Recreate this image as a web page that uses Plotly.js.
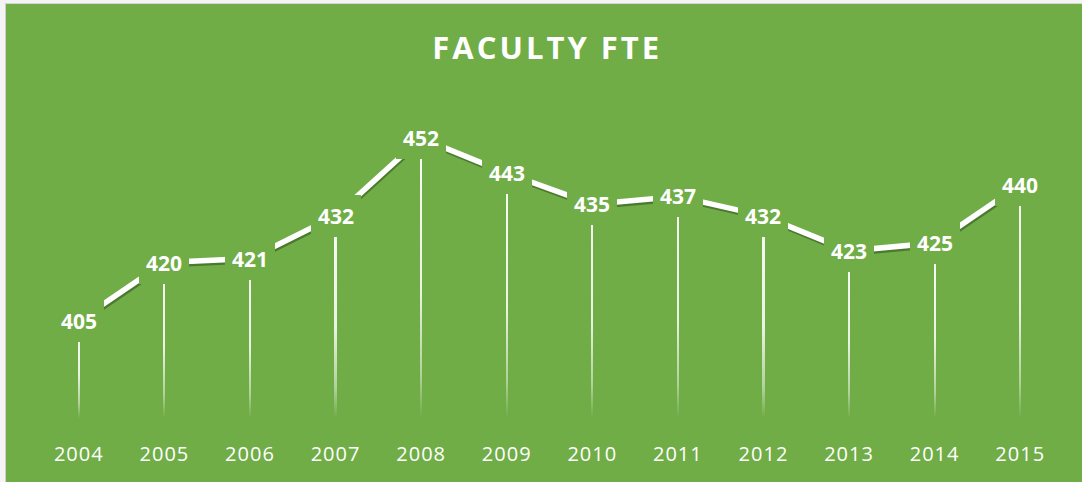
<!DOCTYPE html>
<html><head><meta charset="utf-8">
<script src="https://cdn.plot.ly/plotly-3.0.1.min.js"></script>
<style>
html,body{margin:0;padding:0;background:#f4f4f4;width:1082px;height:482px;overflow:hidden}
#wrap{position:absolute;left:5px;top:3px;width:1077px;height:479px;border-left:1px solid #cfcfcf;border-top:1px solid #d6d6d6;}
#chart{width:1076px;height:478px}
.gtitle{letter-spacing:3px}
.xtick text{letter-spacing:1px}
</style></head>
<body><div id="wrap"><div id="chart"></div></div>
<script>
const years = ['2004','2005','2006','2007','2008','2009','2010','2011','2012','2013','2014','2015'];
const fte = [405,420,421,432,452,443,435,437,432,423,425,440];
const axisMin = 380;
const axisMax = 460;
const chartTitle = 'FACULTY FTE';

const green = '#70AD47';
const fontFam = '"Open Sans", "DejaVu Sans", sans-serif';

const dropLines = {
  type: 'bar', x: years, y: fte.map(v => v - axisMin), base: axisMin,
  width: 0.026, marker: {color: '#ffffff', line: {width: 0}},
  hoverinfo: 'skip', showlegend: false
};
const shadow = {
  type: 'scatter', mode: 'lines', x: years, y: fte,
  line: {color: 'rgba(45,80,25,0.55)', width: 4},
  hoverinfo: 'skip', showlegend: false
};
const mainLine = {
  type: 'scatter', mode: 'lines', x: years, y: fte,
  line: {color: '#ffffff', width: 5.5},
  hoverinfo: 'skip', showlegend: false
};

// category axis: annotations use the serial index of each category
const annotations = years.map((yr, i) => ({
  x: i, y: fte[i], xref: 'x', yref: 'y', text: String(fte[i]),
  showarrow: false, xanchor: 'center', yanchor: 'middle',
  font: {family: fontFam, size: 21, color: '#ffffff', weight: 700},
  bgcolor: green, borderpad: 7, borderwidth: 0
}));

const layout = {
  width: 1076, height: 478,
  paper_bgcolor: green, plot_bgcolor: green,
  margin: {l: 30, r: 19, t: 103, b: 64},
  showlegend: false, bargap: 0,
  title: {
    text: chartTitle, x: 0.503, xref: 'container', xanchor: 'center',
    y: 0.908, yref: 'container', yanchor: 'middle',
    font: {family: fontFam, size: 31, color: '#ffffff', weight: 700}
  },
  xaxis: {
    type: 'category', categoryarray: years, categoryorder: 'array',
    range: [-0.5, years.length - 0.5], autorange: false,
    showgrid: false, zeroline: false, showline: false,
    ticks: '', ticklabelstandoff: 22, fixedrange: true,
    tickfont: {family: fontFam, size: 20, color: '#ffffff'}
  },
  yaxis: {
    range: [axisMin, axisMax], autorange: false, showgrid: false, zeroline: false, showline: false,
    showticklabels: false, ticks: '', fixedrange: true
  },
  annotations: annotations
};

Plotly.newPlot('chart', [dropLines, shadow, mainLine], layout, {displayModeBar: false, staticPlot: true}).then(gd => {
  const svg = gd.querySelector('svg.main-svg');
  const ns = 'http://www.w3.org/2000/svg';
  let defs = svg.querySelector('defs');
  if (!defs) { defs = document.createElementNS(ns, 'defs'); svg.insertBefore(defs, svg.firstChild); }
  const grad = document.createElementNS(ns, 'linearGradient');
  grad.setAttribute('id', 'dropgrad');
  grad.setAttribute('x1', '0'); grad.setAttribute('y1', '0');
  grad.setAttribute('x2', '0'); grad.setAttribute('y2', '1');
  [[0, 0.95], [0.55, 0.85], [0.85, 0.45], [1, 0]].forEach(([o, a]) => {
    const s = document.createElementNS(ns, 'stop');
    s.setAttribute('offset', o);
    s.setAttribute('stop-color', '#ffffff');
    s.setAttribute('stop-opacity', a);
    grad.appendChild(s);
  });
  defs.appendChild(grad);
  gd.querySelectorAll('.barlayer .point path').forEach(p => { p.style.fill = 'url(#dropgrad)'; p.style.fillOpacity = 1; });
  const traces = gd.querySelectorAll('.scatterlayer .trace');
  if (traces.length) traces[0].setAttribute('transform', 'translate(1,3)');
});
</script>
</body></html>
